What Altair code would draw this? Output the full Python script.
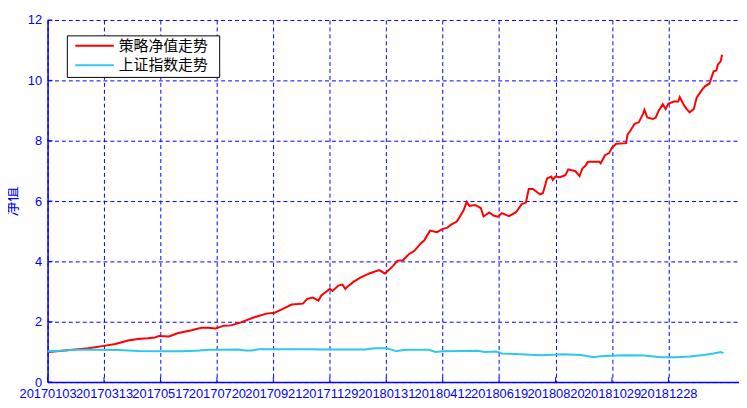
import altair as alt
import pandas as pd

series_names = ["策略净值走势", "上证指数走势"]
series_colors = ["#FF0000", "#2DC8EB"]

strategy_idx = [1, 12, 29, 40, 48, 57, 64, 71, 76, 79, 86, 92, 102, 109, 114, 119, 125, 130,
                137, 146, 155, 161, 166, 173, 181, 184, 188, 192, 194, 197, 200, 202, 206, 209,
                211, 213, 217, 222, 228, 235, 239, 242, 245, 248, 252, 256, 260, 264, 267, 271,
                276, 280, 283, 286, 290, 293, 295, 297, 299, 303, 307, 309, 313, 316, 319, 322,
                327, 332, 336, 339, 341, 344, 349, 351, 354, 357, 358, 360, 363, 367, 369, 374,
                377, 379, 381, 383, 391, 392, 395, 398, 400, 403, 410, 411, 413, 416, 419, 422,
                423, 425, 429, 431, 433, 436, 438, 440, 444, 447, 448, 451, 453, 455, 458, 460,
                464, 466, 469, 472, 474, 475, 477, 478]
strategy_val = [1.00, 1.05, 1.12, 1.20, 1.26, 1.38, 1.43, 1.45, 1.48, 1.53, 1.51, 1.62, 1.72,
                1.80, 1.80, 1.78, 1.87, 1.88, 1.98, 2.14, 2.27, 2.30, 2.41, 2.57, 2.60, 2.76,
                2.80, 2.70, 2.87, 2.98, 3.09, 3.02, 3.20, 3.23, 3.09, 3.18, 3.33, 3.47, 3.60,
                3.71, 3.60, 3.72, 3.86, 4.02, 4.04, 4.24, 4.35, 4.57, 4.70, 5.02, 4.97, 5.08,
                5.11, 5.22, 5.32, 5.55, 5.71, 5.97, 5.84, 5.87, 5.77, 5.49, 5.62, 5.52, 5.48,
                5.60, 5.50, 5.63, 5.90, 5.95, 6.40, 6.40, 6.22, 6.26, 6.75, 6.81, 6.70, 6.81,
                6.79, 6.86, 7.05, 6.99, 6.83, 7.08, 7.16, 7.30, 7.30, 7.25, 7.52, 7.59, 7.77,
                7.90, 7.92, 8.20, 8.33, 8.56, 8.61, 8.89, 9.02, 8.77, 8.72, 8.77, 8.99, 9.21,
                9.05, 9.23, 9.30, 9.30, 9.45, 9.18, 9.05, 8.94, 9.05, 9.43, 9.70, 9.81, 9.89,
                10.30, 10.33, 10.52, 10.63, 10.85]

index_idx = [0, 10, 20, 35, 50, 65, 80, 95, 105, 115, 125, 135, 140, 145, 150, 170, 185, 195,
             210, 225, 232, 240, 245, 247, 250, 255, 270, 275, 280, 295, 305, 310, 318, 322,
             332, 345, 350, 365, 378, 387, 392, 403, 412, 423, 435, 445, 455, 465, 472, 477, 479]
index_val = [1.02, 1.04, 1.07, 1.07, 1.06, 1.03, 1.02, 1.02, 1.04, 1.07, 1.07, 1.08, 1.05,
             1.05, 1.09, 1.09, 1.09, 1.08, 1.08, 1.08, 1.12, 1.12, 1.06, 1.02, 1.05, 1.07,
             1.07, 1.00, 1.02, 1.03, 1.04, 1.00, 1.01, 0.95, 0.93, 0.90, 0.89, 0.92, 0.90,
             0.82, 0.86, 0.88, 0.89, 0.88, 0.82, 0.82, 0.85, 0.90, 0.95, 1.00, 0.96]

x_tick_idx = [0, 40, 80, 120, 160, 200, 240, 280, 320, 360, 400, 440]
x_tick_labels = ["20170103", "20170313", "20170517", "20170720", "20170921", "20171129",
                 "20180131", "20180412", "20180619", "20180820", "20181029", "20181228"]
y_ticks = [0, 2, 4, 6, 8, 10, 12]

W, H = 699, 366
BLUE = "#0000FF"
NUM_FONT = "Liberation Sans"
CJK_FONT = "Noto Sans CJK SC"

df = pd.concat([
    pd.DataFrame({"day": strategy_idx, "value": strategy_val, "series": series_names[0]}),
    pd.DataFrame({"day": index_idx, "value": index_val, "series": series_names[1]}),
])

xscale = alt.Scale(domain=[0, 490], nice=False, zero=False)
yscale = alt.Scale(domain=[0, 12], nice=False)

label_expr = "[" + ",".join("'%s'" % s for s in x_tick_labels) + "][round(datum.value/40)]"

x_axis = alt.Axis(values=x_tick_idx, labelExpr=label_expr, grid=True, gridDash=[4, 3],
                  gridColor=BLUE, gridWidth=1, domainColor=BLUE, domainWidth=1.5,
                  tickSize=0, labelColor=BLUE, labelFont=NUM_FONT, labelFontSize=13,
                  labelPadding=6, labelOverlap=False, labelFlush=False, labelBound=False,
                  title=None)
y_axis = alt.Axis(values=y_ticks, format="d", grid=True, gridDash=[4, 3], gridColor=BLUE,
                  gridWidth=1, domainColor=BLUE, domainWidth=1.5, tickSize=0,
                  labelColor=BLUE, labelFont=NUM_FONT, labelFontSize=13, labelPadding=6,
                  labelOverlap=False, labelFlush=False,
                  title="净值", titleColor=BLUE, titleFont=CJK_FONT, titleFontSize=15,
                  titleFontWeight="normal", titleAngle=270, titleX=-36, titleY=H / 2,
                  titleAlign="center", titleBaseline="middle")

lines = alt.Chart(df).mark_line(strokeWidth=2, clip=True).encode(
    x=alt.X("day:Q", scale=xscale, axis=x_axis),
    y=alt.Y("value:Q", scale=yscale, axis=y_axis),
    color=alt.Color("series:N", scale=alt.Scale(domain=series_names, range=series_colors),
                    legend=None),
    detail="series:N",
)

ytick_df = pd.DataFrame({"value": y_ticks})
xtick_df = pd.DataFrame({"day": x_tick_idx})
yticks = alt.Chart(ytick_df).mark_rule(color=BLUE, strokeWidth=1).encode(
    y=alt.Y("value:Q", scale=yscale, axis=y_axis), x=alt.value(0), x2=alt.value(5))
xticks = alt.Chart(xtick_df).mark_rule(color=BLUE, strokeWidth=1).encode(
    x=alt.X("day:Q", scale=xscale, axis=x_axis), y=alt.value(H), y2=alt.value(H - 5))

one = pd.DataFrame({"k": [0]})
legend_layers = [
    alt.Chart(one).mark_rect(fill="white", stroke="black", strokeWidth=1).encode(
        x=alt.value(20), x2=alt.value(174), y=alt.value(16), y2=alt.value(58))
]
for i, (name, col) in enumerate(zip(series_names, series_colors)):
    yy = 26 + i * 19.7
    legend_layers.append(
        alt.Chart(one).mark_rule(color=col, strokeWidth=2).encode(
            x=alt.value(28), x2=alt.value(67), y=alt.value(yy)))
    legend_layers.append(
        alt.Chart(one).mark_text(align="left", baseline="middle", font=CJK_FONT,
                                 fontSize=15, color="black").encode(
            x=alt.value(72), y=alt.value(yy), text=alt.value(name)))

chart = alt.layer(lines, yticks, xticks, *legend_layers).properties(
    width=W, height=H,
    autosize=alt.AutoSizeParams(type="none"),
    padding={"left": 40, "top": 10, "right": 0, "bottom": 22},
    background="white",
).configure_view(strokeWidth=0)

chart.save("out.html", embed_options={"renderer": "svg", "actions": False})
